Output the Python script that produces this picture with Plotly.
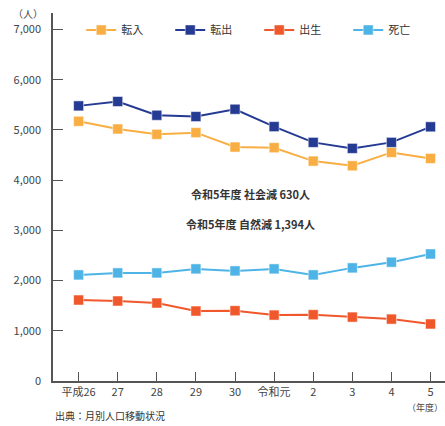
import plotly.graph_objects as go

categories = ["平成26", "27", "28", "29", "30", "令和元", "2", "3", "4", "5"]
tennyu = [5173, 5020, 4913, 4947, 4660, 4647, 4380, 4287, 4553, 4433]
tenshutsu = [5480, 5567, 5293, 5267, 5413, 5067, 4753, 4633, 4753, 5063]
shussei = [1613, 1593, 1553, 1393, 1400, 1313, 1320, 1273, 1233, 1136]
shibou = [2113, 2153, 2153, 2233, 2193, 2233, 2113, 2253, 2367, 2530]
yticks = [0, 1000, 2000, 3000, 4000, 5000, 6000, 7000]
ytick_labels = ["0", "1,000", "2,000", "3,000", "4,000", "5,000", "6,000", "7,000"]

FONT = "Noto Sans CJK JP"
series = [
    ("転入", tennyu, "#F9AE43"),
    ("転出", tenshutsu, "#253A93"),
    ("出生", shussei, "#F0572A"),
    ("死亡", shibou, "#4EB4E6"),
]

fig = go.Figure()
xs = list(range(len(categories)))
for name, vals, col in series:
    fig.add_trace(go.Scatter(
        x=xs, y=vals, name=name, mode="lines+markers",
        line=dict(color=col, width=2),
        marker=dict(symbol="square", size=10, color=col,
                    line=dict(color="rgba(255,255,255,0.5)", width=1)),
    ))

fig.update_layout(
    width=445, height=426,
    margin=dict(l=53, r=0, t=13, b=45),
    paper_bgcolor="white", plot_bgcolor="white",
    font=dict(family=FONT, size=11, color="#444"),
    showlegend=True,
    legend=dict(orientation="h", x=0.072, xanchor="left", y=0.954, yanchor="middle",
                font=dict(size=11, color="#333"), entrywidth=44, entrywidthmode="pixels",
                bgcolor="rgba(0,0,0,0)", itemclick=False),
    xaxis=dict(range=[-0.655, 9.37], tickvals=xs, ticktext=categories,
               showline=True, linecolor="#555", linewidth=1.5,
               ticks="inside", ticklen=9, tickcolor="#555", tickwidth=1,
               showgrid=False, zeroline=False, fixedrange=True,
               tickfont=dict(size=11, color="#444")),
    yaxis=dict(range=[0, 7330], tickvals=yticks, ticktext=ytick_labels,
               showline=True, linecolor="#555", linewidth=1.5,
               ticks="inside", ticklen=10, tickcolor="#555", tickwidth=1,
               showgrid=False, zeroline=False, fixedrange=True,
               ticklabelstandoff=8,
               tickfont=dict(size=11, color="#444")),
    annotations=[
        dict(text="（人）", xref="paper", yref="paper", x=-0.02, y=1.0, xanchor="right",
             yanchor="middle", showarrow=False, font=dict(size=10, color="#444")),
        dict(text="（年度）", xref="paper", yref="paper", x=1.0, y=-0.073, xanchor="right",
             yanchor="middle", showarrow=False, font=dict(size=9, color="#444")),
        dict(text="出典：月別人口移動状況", xref="paper", yref="paper", x=0.0, y=-0.094,
             xanchor="left", yanchor="middle", showarrow=False, font=dict(size=10, color="#333")),
        dict(text="<b>令和5年度 社会減 630人</b>", xref="paper", yref="paper", x=0.503, y=0.508,
             xanchor="center", yanchor="middle", showarrow=False, font=dict(size=11, color="#333")),
        dict(text="<b>令和5年度 自然減 1,394人</b>", xref="paper", yref="paper", x=0.503, y=0.427,
             xanchor="center", yanchor="middle", showarrow=False, font=dict(size=11, color="#333")),
    ],
)

fig.write_html("out.html")
